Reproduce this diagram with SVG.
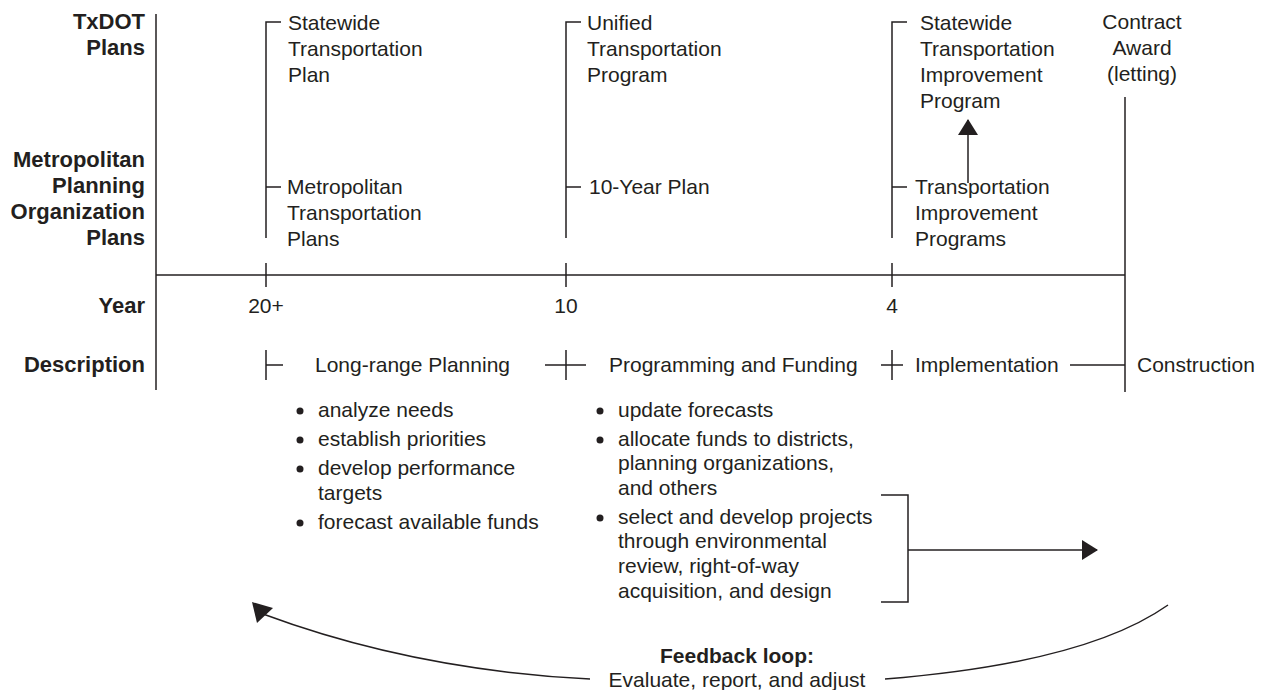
<svg xmlns="http://www.w3.org/2000/svg" width="1267" height="690" viewBox="0 0 1267 690">
<defs>
<style>
.t{font-family:"Liberation Sans",Arial,sans-serif;font-size:21px;fill:#231f20}
.b{font-family:"Liberation Sans",Arial,sans-serif;font-size:21px;font-weight:bold;fill:#231f20}
.h{font-size:22px}
.r{text-anchor:end}
.m{text-anchor:middle}
.l{stroke:#231f20;stroke-width:1.5;fill:none}
.dot{fill:#231f20}
.head{fill:#231f20}
</style>
<marker id="ah" viewBox="0 0 16 20" refX="15" refY="10" markerWidth="16" markerHeight="20" markerUnits="userSpaceOnUse" orient="auto">
<path d="M0,0 L16,10 L0,20 Z" fill="#231f20"/>
</marker>
</defs>
<rect width="1267" height="690" fill="#fff"/>

<g id="row-labels">
<text class="b h r" x="145" y="29">TxDOT</text>
<text class="b h r" x="145" y="55">Plans</text>
<text class="b h r" x="145" y="167">Metropolitan</text>
<text class="b h r" x="145" y="193">Planning</text>
<text class="b h r" x="145" y="219">Organization</text>
<text class="b h r" x="145" y="245">Plans</text>
<text class="b h r" x="145" y="313">Year</text>
<text class="b h r" x="145" y="372">Description</text>
</g>

<g id="frame">
<line class="l" x1="156" y1="14" x2="156" y2="390"/>
<line class="l" x1="156" y1="275" x2="1125" y2="275"/>
<line class="l" x1="1125" y1="97" x2="1125" y2="392"/>
</g>

<g id="col-20">
<path class="l" d="M281,22 H266 V238 M266,187 H281"/>
<line class="l" x1="266" y1="263" x2="266" y2="287"/>
<text class="t" x="288" y="30">Statewide</text>
<text class="t" x="288" y="56">Transportation</text>
<text class="t" x="288" y="82">Plan</text>
<text class="t" x="287" y="194">Metropolitan</text>
<text class="t" x="287" y="220">Transportation</text>
<text class="t" x="287" y="246">Plans</text>
<text class="t m" x="266" y="313">20+</text>
</g>

<g id="col-10">
<path class="l" d="M581,22 H566 V238 M566,187 H581"/>
<line class="l" x1="566" y1="263" x2="566" y2="287"/>
<text class="t" x="587" y="30">Unified</text>
<text class="t" x="587" y="56">Transportation</text>
<text class="t" x="587" y="82">Program</text>
<text class="t" x="589" y="194">10-Year Plan</text>
<text class="t m" x="566" y="313">10</text>
</g>

<g id="col-4">
<path class="l" d="M907,22 H892 V238 M892,187 H907"/>
<line class="l" x1="892" y1="263" x2="892" y2="287"/>
<text class="t" x="920" y="30">Statewide</text>
<text class="t" x="920" y="56">Transportation</text>
<text class="t" x="920" y="82">Improvement</text>
<text class="t" x="920" y="108">Program</text>
<text class="t" x="915" y="194">Transportation</text>
<text class="t" x="915" y="220">Improvement</text>
<text class="t" x="915" y="246">Programs</text>
<text class="t m" x="892" y="313">4</text>
</g>

<g id="contract">
<text class="t m" x="1142" y="29">Contract</text>
<text class="t m" x="1142" y="55">Award</text>
<text class="t m" x="1142" y="81">(letting)</text>
</g>

<g id="description">
<path class="l" d="M266,350 V380 M266,365 H283"/>
<path class="l" d="M545,365 H586 M566,350 V380"/>
<path class="l" d="M881,365 H903 M892,350 V380"/>
<line class="l" x1="1070" y1="365" x2="1125" y2="365"/>
<text class="t" x="315" y="372">Long-range Planning</text>
<text class="t" x="609" y="372">Programming and Funding</text>
<text class="t" x="915" y="372">Implementation</text>
<text class="t" x="1137" y="372">Construction</text>
</g>

<g id="bullets-planning">
<circle class="dot" cx="300" cy="411" r="3.5"/>
<circle class="dot" cx="300" cy="440" r="3.5"/>
<circle class="dot" cx="300" cy="469" r="3.5"/>
<circle class="dot" cx="300" cy="523" r="3.5"/>
<text class="t" x="318" y="417">analyze needs</text>
<text class="t" x="318" y="446">establish priorities</text>
<text class="t" x="318" y="475">develop performance</text>
<text class="t" x="318" y="500">targets</text>
<text class="t" x="318" y="529">forecast available funds</text>
</g>

<g id="bullets-programming">
<circle class="dot" cx="600" cy="411" r="3.5"/>
<circle class="dot" cx="600" cy="440" r="3.5"/>
<circle class="dot" cx="600" cy="518" r="3.5"/>
<text class="t" x="618" y="417">update forecasts</text>
<text class="t" x="618" y="446">allocate funds to districts,</text>
<text class="t" x="618" y="470">planning organizations,</text>
<text class="t" x="618" y="495">and others</text>
<text class="t" x="618" y="524">select and develop projects</text>
<text class="t" x="618" y="548">through environmental</text>
<text class="t" x="618" y="573">review, right-of-way</text>
<text class="t" x="618" y="598">acquisition, and design</text>
</g>

<g id="feedback">
<text class="b m" x="737" y="663">Feedback loop:</text>
<text class="t m" x="737" y="687">Evaluate, report, and adjust</text>
</g>

<g id="connectors">
<path class="l" d="M881,495 H908 V602 H881"/>
<line class="l" x1="908" y1="550" x2="1097" y2="550" marker-end="url(#ah)"/>
<line class="l" x1="968" y1="183" x2="968" y2="120" marker-end="url(#ah)"/>
<path class="l" d="M590,679 C470,673 360,650 263,614"/>
<polygon class="head" points="252,602 273,608 257,623"/>
<path class="l" d="M885,679 C1010,669 1110,646 1168,605"/>
</g>
</svg>
